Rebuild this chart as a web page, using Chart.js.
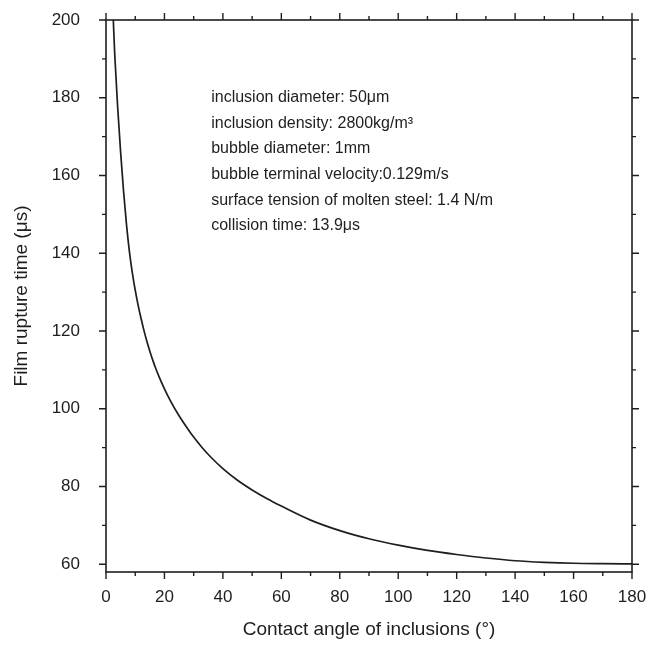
<!DOCTYPE html>
<html lang="en">
<head>
  <meta charset="UTF-8">
  <title>Film rupture time vs contact angle</title>
  <script src="https://cdn.jsdelivr.net/npm/chart.js"></script>
  <style>
    html, body {
      margin: 0;
      padding: 0;
      background: #fff;
    }
    #wrap {
      width: 652px;
      height: 648px;
    }
  </style>
</head>
<body>
  <div id="wrap"><canvas id="chart"></canvas></div>
  <script>
// contact angle (deg) and film rupture time (us)
const angles = [2.5, 3, 4, 5, 6, 7, 8, 9, 10, 11, 12, 13, 14, 15, 16, 17, 18, 20, 22, 25, 28, 30, 33, 36, 40, 45, 50, 55, 60, 70, 80, 90, 100, 110, 120, 130, 140, 150, 160, 170, 180];
const ruptureTime = [200, 191, 177.5, 166, 156, 147.5, 140.5, 135, 130.5, 126.6, 123.2, 120.1, 117.3, 114.8, 112.5, 110.4, 108.5, 105.1, 102.1, 98.2, 94.8, 92.7, 89.9, 87.45, 84.6, 81.6, 79.1, 76.9, 74.95, 71.35, 68.65, 66.55, 64.9, 63.55, 62.5, 61.6, 60.9, 60.5, 60.25, 60.15, 60.1];

const xTicks = [0, 10, 20, 30, 40, 50, 60, 70, 80, 90, 100, 110, 120, 130, 140, 150, 160, 170, 180];
const yTicks = [60, 70, 80, 90, 100, 110, 120, 130, 140, 150, 160, 170, 180, 190, 200];

const noteLines = [
  'inclusion diameter: 50\u03bcm',
  'inclusion density: 2800kg/m\u00b3',
  'bubble diameter: 1mm',
  'bubble terminal velocity:0.129m/s',
  'surface tension of molten steel: 1.4 N/m',
  'collision time: 13.9\u03bcs'
];

const ink = '#1e1e1e';
const fontFam = '"Liberation Sans", Arial, sans-serif';

// frame + mirrored tick marks (major long, minor short), plus the text box
const framePlugin = {
  id: 'frame',
  afterDraw(chart) {
    const { ctx, chartArea: a } = chart;
    const xs = chart.scales.x;
    const ys = chart.scales.y;
    ctx.save();
    ctx.strokeStyle = ink;
    ctx.lineWidth = 1.6;
    ctx.strokeRect(a.left, a.top, a.right - a.left, a.bottom - a.top);

    ctx.lineWidth = 1.4;
    ctx.beginPath();
    xTicks.forEach(v => {
      const px = xs.getPixelForValue(v);
      const len = v % 20 === 0 ? 7 : 4;
      ctx.moveTo(px, a.bottom);
      ctx.lineTo(px, a.bottom + len);
      ctx.moveTo(px, a.top);
      ctx.lineTo(px, a.top - len);
    });
    yTicks.forEach(v => {
      const py = ys.getPixelForValue(v);
      const len = v % 20 === 0 ? 7 : 4;
      ctx.moveTo(a.left, py);
      ctx.lineTo(a.left - len, py);
      ctx.moveTo(a.right, py);
      ctx.lineTo(a.right + len, py);
    });
    ctx.stroke();

    // parameter notes
    ctx.fillStyle = ink;
    ctx.font = '16px ' + fontFam;
    ctx.textBaseline = 'middle';
    ctx.textAlign = 'left';
    const tx = xs.getPixelForValue(36);
    let ty = ys.getPixelForValue(180);
    noteLines.forEach(line => {
      ctx.fillText(line, tx, ty);
      ty += 25.6;
    });
    ctx.restore();
  }
};

// drop the label-overflow padding so the plot box sits where layout.padding says
function fixBox(s, size) {
  if (s.isHorizontal()) s.height = size; else s.width = size;
  s.paddingTop = 0;
  s.paddingBottom = 0;
  s.paddingLeft = 0;
  s.paddingRight = 0;
}

const ctx = document.getElementById('chart').getContext('2d');

new Chart(ctx, {
  type: 'line',
  data: {
    datasets: [{
      data: angles.map((a, i) => ({ x: a, y: ruptureTime[i] })),
      borderColor: ink,
      borderWidth: 1.7,
      pointRadius: 0,
      fill: false,
      cubicInterpolationMode: 'monotone'
    }]
  },
  options: {
    responsive: true,
    maintainAspectRatio: false,
    animation: false,
    layout: { padding: { top: 20, right: 20, left: 0, bottom: 0 } },
    plugins: {
      legend: { display: false },
      tooltip: { enabled: false }
    },
    scales: {
      x: {
        type: 'linear',
        min: 0,
        max: 180,
        afterFit: s => fixBox(s, 76),
        afterBuildTicks: s => { s.ticks = xTicks.map(v => ({ value: v })); },
        grid: { display: false, drawTicks: false },
        border: { display: false },
        ticks: {
          autoSkip: false,
          maxRotation: 0,
          padding: 15,
          color: ink,
          font: { family: fontFam, size: 17 },
          callback: v => (v % 20 === 0 ? v : '')
        },
        title: {
          display: true,
          text: 'Contact angle of inclusions (\u00b0)',
          color: ink,
          font: { family: fontFam, size: 19 },
          padding: { top: 0, bottom: 7 }
        }
      },
      y: {
        type: 'linear',
        min: 58,
        max: 200,
        afterFit: s => fixBox(s, 106),
        afterBuildTicks: s => { s.ticks = yTicks.map(v => ({ value: v })); },
        grid: { display: false, drawTicks: false },
        border: { display: false },
        ticks: {
          autoSkip: false,
          padding: 26,
          color: ink,
          font: { family: fontFam, size: 17 },
          callback: v => (v % 20 === 0 ? v : '')
        },
        title: {
          display: true,
          text: 'Film rupture time (\u03bcs)',
          color: ink,
          font: { family: fontFam, size: 19 },
          padding: { top: 10, bottom: 0 }
        }
      }
    }
  },
  plugins: [framePlugin]
});
  </script>
</body>
</html>
